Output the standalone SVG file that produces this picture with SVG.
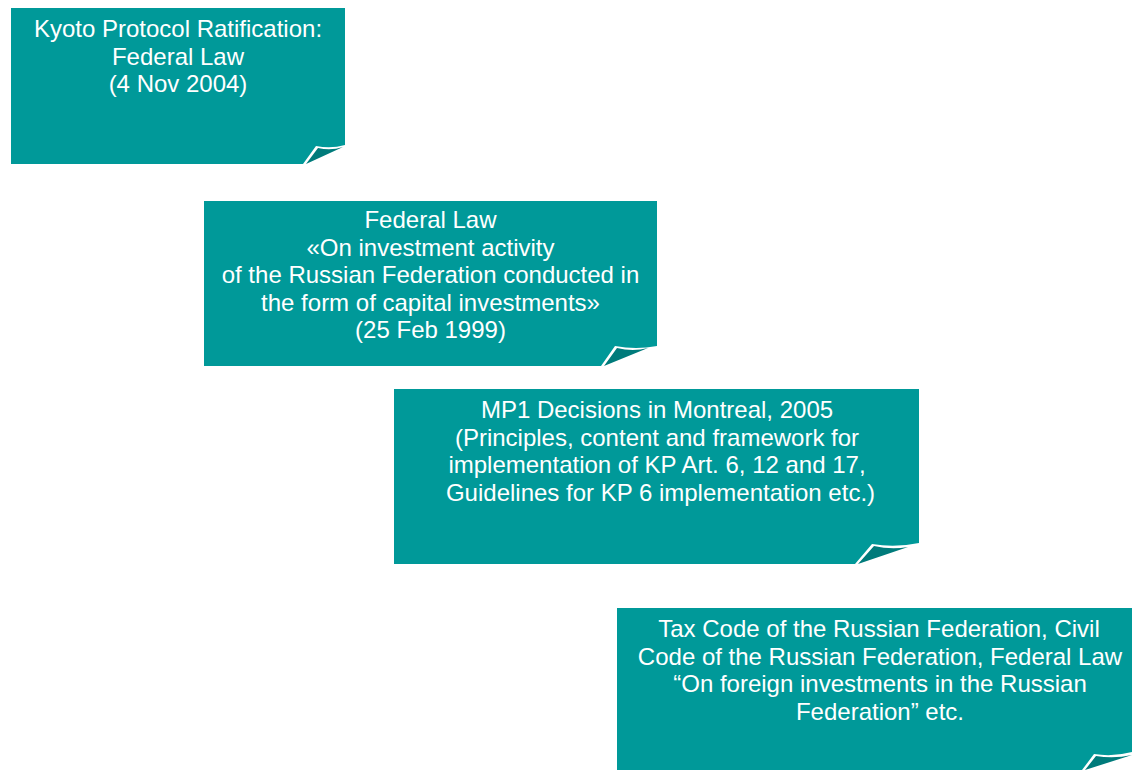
<svg xmlns="http://www.w3.org/2000/svg" width="1132" height="770" viewBox="0 0 1132 770">
<style>
.body{fill:#009999;}
.fold{fill:#007B7B;}
text{font-family:"Liberation Sans",Arial,sans-serif;font-size:24px;fill:#FFFFFF;text-anchor:middle;}
</style>
<rect width="1132" height="770" fill="#FFFFFF"/>
<g id="node1">
<path class="body" d="M11,8 H345 V145 Q331,149 316,146 L303,164 H11 Z"/>
<path class="fold" d="M318,148 Q331,151 343,147 L306,164 Z"/>
<text x="178" y="37">Kyoto Protocol Ratification:</text>
<text x="178" y="64.5">Federal Law</text>
<text x="178" y="92">(4 Nov 2004)</text>
</g>
<g id="node2">
<path class="body" d="M204,201 H657 V346 Q636,350 615,346 L601,366 H204 Z"/>
<path class="fold" d="M617,348 Q633,352 648,348 L604,366 Z"/>
<text x="430.5" y="228">Federal Law</text>
<text x="430.5" y="255.5">«On investment activity</text>
<text x="430.5" y="283">of the Russian Federation conducted in</text>
<text x="430.5" y="310.5">the form of capital investments»</text>
<text x="430.5" y="338">(25 Feb 1999)</text>
</g>
<g id="node3">
<path class="body" d="M394,389 H919 V543 Q895,548 872,544 L855,564 H394 Z"/>
<path class="fold" d="M874,546 Q891,550 908,547 L858,564 Z"/>
<text x="657" y="418">MP1 Decisions in Montreal, 2005</text>
<text x="657" y="445.5">(Principles, content and framework for</text>
<text x="657" y="473">implementation of KP Art. 6, 12 and 17,</text>
<text x="660.5" y="500.5">Guidelines for KP 6 implementation etc.)</text>
</g>
<g id="node4">
<path class="body" d="M617,608 H1132 V752 Q1113,757 1094,754 L1082,770 H617 Z"/>
<path class="fold" d="M1096,756 Q1114,759 1132,755 L1085,770 Z"/>
<text x="879" y="637">Tax Code of the Russian Federation, Civil</text>
<text x="880" y="664.5">Code of the Russian Federation, Federal Law</text>
<text x="880" y="692">“On foreign investments in the Russian</text>
<text x="880" y="719.5">Federation” etc.</text>
</g>
<g id="connectors"></g>
</svg>
